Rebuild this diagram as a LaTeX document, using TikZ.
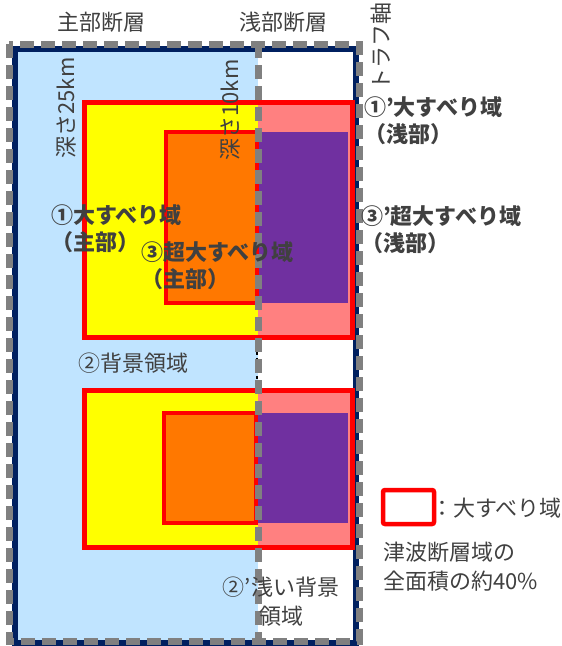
\documentclass[tikz,border=0pt]{standalone}
\usepackage{fontspec}
\setmainfont{Noto Sans CJK JP}
\usepackage{xcolor}
\usepackage{tikz}
\definecolor{NKNavy}{HTML}{002060}
\definecolor{NKSky}{HTML}{C0E4FF}
\definecolor{NKYellow}{HTML}{FFFF00}
\definecolor{NKOrange}{HTML}{FF7800}
\definecolor{NKPink}{HTML}{FF8080}
\definecolor{NKPurple}{HTML}{7030A0}
\definecolor{NKRed}{HTML}{FF0000}
\definecolor{NKGray}{HTML}{808080}
\definecolor{NKText}{HTML}{404040}

\begin{document}
\begin{tikzpicture}[x=1pt,y=-1pt,
  plaintext/.style={text=NKText,inner sep=0pt,font=\fontsize{22}{29}\selectfont},
  boldtext/.style={text=NKText,inner sep=0pt,align=left,font=\fontsize{22}{27}\selectfont\bfseries},
  slipbox/.style={draw=NKRed,line width=5pt},
  zoneline/.style={draw=NKGray,line width=7pt,dash pattern=on 14pt off 7pt}]
\path[use as bounding box] (0,0) rectangle (562,646);
% main part background and trough frame
\fill[NKSky] (16,50) rectangle (258,641);
\draw[NKNavy,line width=6pt] (15,49) rectangle (355.5,642.5);
\draw[black,line width=1.2pt,dashed] (83,163) -- (83,337);
\draw[black,line width=1.2pt,dashed] (257,160) -- (257,547);
% upper slip area
\fill[NKYellow] (84,102) rectangle (258,337);
\fill[NKPink] (258,102) rectangle (352,337);
\fill[NKPurple] (258,132) rectangle (348,303);
\draw[slipbox] (84,102) rectangle (352,337);
\filldraw[slipbox,line width=3.5pt,fill=NKOrange] (166,132) rectangle (257,303);
% lower slip area
\fill[NKYellow] (84,390) rectangle (258,547);
\fill[NKPink] (258,390) rectangle (352,547);
\fill[NKPurple] (258,413) rectangle (348,523);
\draw[slipbox] (84,390) rectangle (352,547);
\filldraw[slipbox,line width=3.5pt,fill=NKOrange] (164,413) rectangle (256,523);
% fault zones
\draw[zoneline] (9,44) rectangle (359,641);
\draw[zoneline] (258,44) -- (258,641);
% headers
\node[plaintext] (mainhdr) at (101,22) {主部断層};
\node[plaintext] (shallowhdr) at (283,22) {浅部断層};
\node[plaintext,rotate=90] (trough) at (381,46) {トラフ軸};
\node[plaintext,rotate=90] (depth25) at (66,108) {深さ25km};
\node[plaintext,rotate=90] (depth10) at (230,110) {深さ10km};
% area labels
\node[boldtext,anchor=west] (bigmain) at (51,229) {①大すべり域\\（主部）};
\node[boldtext,anchor=west] (supermain) at (141,266) {③超大すべり域\\（主部）};
\node[boldtext,anchor=west] (bigshallow) at (364,121) {①’大すべり域\\（浅部）};
\node[boldtext,anchor=west] (supershallow) at (361,230) {③’超大すべり域\\（浅部）};
\node[plaintext,anchor=west] (bgmain) at (78,363) {②背景領域};
\node[plaintext,align=center] (bgshallow) at (281,602) {②’浅い背景\\領域};
% legend
\draw[NKRed,line width=4.5pt,fill=white,rounded corners=2pt] (383,490) rectangle (434,524);
\node[plaintext,anchor=west] (legendkey) at (431,508) {：大すべり域};
\node[plaintext,anchor=west,align=left] (legendnote) at (383,567) {津波断層域の\\全面積の約40\%};
\end{tikzpicture}
\end{document}
